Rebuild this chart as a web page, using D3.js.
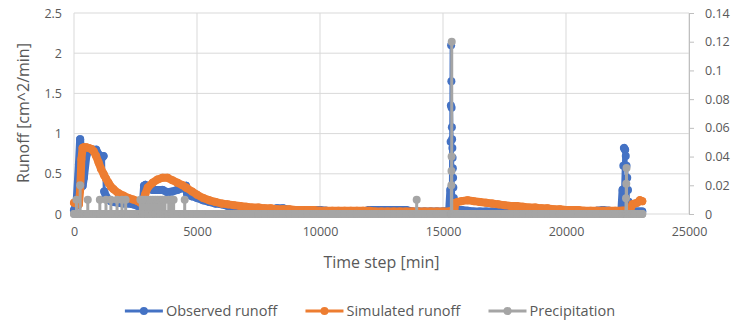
<!DOCTYPE html>
<html>
<head>
<meta charset="utf-8">
<script src="https://cdn.jsdelivr.net/npm/d3@7"></script>
<style>
  body { margin: 0; background: #fff; }
  svg text { font-family: "Open Sans", Lato, sans-serif; fill: #595959; }
</style>
</head>
<body>
<div id="chart"></div>
<script>
// time column [min], shared by observed and simulated runoff
const timeMin = [
  0, 100, 200, 250, 300, 350, 400, 500, 600, 700, 800, 900, 1000, 1100, 1200, 1230, 1300, 1400, 1500, 1600,
  1800, 2000, 2200, 2400, 2600, 2700, 2800, 2850, 2900, 3000, 3200, 3400, 3600, 3800, 4000, 4200, 4400, 4550,
  4600, 4800, 5000, 5250, 5500, 5750, 6000, 6250, 6500, 6750, 7000, 7250, 7500, 7750, 8000, 8250, 8500, 8750,
  9000, 9250, 9500, 9750, 10000, 10250, 10500, 10750, 11000, 11250, 11500, 11750, 12000, 12250, 12500, 12750,
  13000, 13250, 13500, 13750, 14000, 14250, 14500, 14750, 15000, 15250, 15300, 15310, 15320, 15330, 15340,
  15350, 15360, 15370, 15380, 15390, 15400, 15410, 15420, 15440, 15460, 15500, 15600, 15750, 16000, 16250,
  16500, 16750, 17000, 17250, 17500, 17750, 18000, 18250, 18500, 18750, 19000, 19250, 19500, 19750, 20000,
  20250, 20500, 20750, 21000, 21250, 21500, 21750, 22000, 22250, 22300, 22330, 22360, 22400, 22430, 22460,
  22490, 22520, 22550, 22600, 22700, 22800, 22900, 23000, 23100
];

// observed runoff [cm^2/min]
const observedRunoff = [
  0.05, 0.12, 0.62, 0.93, 0.55, 0.35, 0.45, 0.72, 0.8, 0.8, 0.8, 0.8, 0.74, 0.68, 0.72, 0.28, 0.22, 0.18, 0.16, 0.15,
  0.14, 0.13, 0.13, 0.12, 0.1, 0.1, 0.12, 0.35, 0.36, 0.33, 0.3, 0.3, 0.3, 0.27, 0.28, 0.3, 0.32, 0.35,
  0.25, 0.22, 0.2, 0.17, 0.15, 0.13, 0.12, 0.1, 0.09, 0.08, 0.08, 0.07, 0.06, 0.06, 0.06, 0.07, 0.07, 0.05,
  0.05, 0.04, 0.04, 0.05, 0.05, 0.04, 0.03, 0.03, 0.03, 0.03, 0.03, 0.03, 0.05, 0.05, 0.05, 0.05,
  0.05, 0.05, 0.05, 0.03, 0.03, 0.03, 0.03, 0.03, 0.03, 0.04, 0.3, 0.9, 1.35, 2.1, 1.65,
  1.32, 1.08, 0.93, 0.82, 0.7, 0.57, 0.45, 0.33, 0.2, 0.1, 0.05, 0.05, 0.05, 0.04, 0.03,
  0.03, 0.03, 0.03, 0.03, 0.03, 0.02, 0.02, 0.02, 0.02, 0.02, 0.02, 0.02, 0.02, 0.02, 0.02,
  0.02, 0.02, 0.02, 0.02, 0.04, 0.05, 0.04, 0.03, 0.03, 0.3, 0.6, 0.82, 0.8, 0.72, 0.6,
  0.45, 0.3, 0.15, 0.05, 0.03, 0.03, 0.03, 0.03, 0.03
];

// simulated runoff [cm^2/min]
const simulatedRunoff = [
  0.14, 0.13, 0.12, 0.3, 0.68, 0.82, 0.83, 0.83, 0.82, 0.81, 0.78, 0.72, 0.64, 0.56, 0.5, 0.48, 0.44, 0.39, 0.34, 0.31,
  0.26, 0.23, 0.2, 0.18, 0.16, 0.14, 0.17, 0.2, 0.25, 0.33, 0.39, 0.43, 0.45, 0.45, 0.42, 0.39, 0.36, 0.33,
  0.32, 0.28, 0.24, 0.2, 0.17, 0.15, 0.13, 0.12, 0.11, 0.1, 0.09, 0.08, 0.08, 0.07, 0.07, 0.06, 0.06, 0.06,
  0.05, 0.05, 0.05, 0.05, 0.04, 0.04, 0.04, 0.04, 0.04, 0.04, 0.04, 0.04, 0.04, 0.03, 0.03, 0.03,
  0.03, 0.03, 0.03, 0.03, 0.03, 0.03, 0.03, 0.03, 0.03, 0.03, 0.03, 0.03, 0.03, 0.03, 0.03,
  0.03, 0.03, 0.03, 0.03, 0.03, 0.03, 0.03, 0.03, 0.03, 0.04, 0.14, 0.15, 0.16, 0.17, 0.16,
  0.15, 0.14, 0.13, 0.12, 0.11, 0.1, 0.1, 0.09, 0.08, 0.08, 0.07, 0.07, 0.06, 0.06, 0.05,
  0.05, 0.05, 0.04, 0.04, 0.04, 0.04, 0.04, 0.04, 0.04, 0.04, 0.04, 0.04, 0.04, 0.04, 0.04,
  0.04, 0.04, 0.04, 0.04, 0.12, 0.13, 0.14, 0.17, 0.16
];

// precipitation readings above zero; every other time step reads 0
const precipTime = [
  100, 250, 560, 1050, 1300, 1500, 1750, 1950, 2100,
  2700, 2800, 2900, 3000, 3100, 3200, 3300, 3400, 3500, 3600, 3700, 3850, 3950, 4050, 4500,
  13930, 15340, 15345, 15350, 15355, 22440, 22450, 22460
];
const precipValue = [
  0.01, 0.02, 0.01, 0.01, 0.01, 0.01, 0.01, 0.01, 0.01,
  0.01, 0.01, 0.01, 0.01, 0.01, 0.01, 0.01, 0.01, 0.01, 0.01, 0.01, 0.01, 0.01, 0.01, 0.01,
  0.01, 0.02, 0.03, 0.04, 0.12, 0.011, 0.021, 0.032
];

const timeTicks = [0, 5000, 10000, 15000, 20000, 25000];
const runoffTicks = [0, 0.5, 1, 1.5, 2, 2.5];
const precipTicks = [0, 0.02, 0.04, 0.06, 0.08, 0.1, 0.12, 0.14];
const seriesNames = ["Observed runoff", "Simulated runoff", "Precipitation"];
const seriesColors = ["#4472C4", "#ED7D31", "#A5A5A5"];

const W = 741, H = 325;
const plot = { left: 74, right: 689, top: 13, bottom: 214 };
const gridColor = "#d9d9d9";
const markerR = 4;

const svg = d3.select("#chart").append("svg")
  .attr("width", W)
  .attr("height", H);

const x = d3.scaleLinear().domain([0, 25000]).range([plot.left, plot.right]);
const yRunoff = d3.scaleLinear().domain([0, 2.5]).range([plot.bottom, plot.top]);
const yPrecip = d3.scaleLinear().domain([0, 0.14]).range([plot.bottom, plot.top]);

// gridlines
svg.append("g")
  .selectAll("line")
  .data(runoffTicks)
  .join("line")
  .attr("x1", plot.left).attr("x2", plot.right)
  .attr("y1", (d) => yRunoff(d)).attr("y2", (d) => yRunoff(d))
  .attr("stroke", gridColor);
svg.append("g")
  .selectAll("line")
  .data(timeTicks)
  .join("line")
  .attr("x1", (d) => x(d)).attr("x2", (d) => x(d))
  .attr("y1", plot.top).attr("y2", plot.bottom)
  .attr("stroke", gridColor);

// series data
const observed = timeMin.map((t, i) => [t, observedRunoff[i]]);
const simulated = timeMin.map((t, i) => [t, simulatedRunoff[i]]);
const precip = timeMin.map((t) => [t, 0]);
precipTime.forEach((t, i) => precip.push([t, 0], [t, precipValue[i]], [t, 0]));
precip.sort((a, b) => a[0] - b[0]);

const series = [
  { data: observed, y: yRunoff },
  { data: simulated, y: yRunoff },
  { data: precip, y: yPrecip },
];

series.forEach((s, i) => {
  const line = d3.line().x((d) => x(d[0])).y((d) => s.y(d[1]));
  const g = svg.append("g");

  // the logger writes every minute, so between widely spaced readings the
  // markers merge into a solid band as wide as one marker
  const trail = d3.path();
  s.data.forEach((d, j) => {
    const p = s.data[j - 1];
    if (!p || d[0] - p[0] < 40) return;
    trail.moveTo(x(p[0]), s.y(p[1]));
    trail.lineTo(x(d[0]), s.y(d[1]));
  });
  g.append("path")
    .attr("d", trail.toString())
    .attr("fill", "none")
    .attr("stroke", seriesColors[i])
    .attr("stroke-width", markerR * 2)
    .attr("stroke-linecap", "round");

  g.append("path")
    .datum(s.data)
    .attr("fill", "none")
    .attr("stroke", seriesColors[i])
    .attr("stroke-width", 3)
    .attr("stroke-linejoin", "round")
    .attr("d", line);
  g.selectAll("circle")
    .data(s.data)
    .join("circle")
    .attr("cx", (d) => x(d[0]))
    .attr("cy", (d) => s.y(d[1]))
    .attr("r", markerR)
    .attr("fill", seriesColors[i]);
});

// axes
const tickFont = 12.5;
const left = svg.append("g")
  .attr("transform", `translate(${plot.left},0)`)
  .call(d3.axisLeft(yRunoff).tickValues(runoffTicks).tickSize(0).tickPadding(12).tickFormat((d) => String(d)));
left.select(".domain").remove();

const right = svg.append("g")
  .attr("transform", `translate(${plot.right},0)`)
  .call(d3.axisRight(yPrecip).tickValues(precipTicks).tickSize(5).tickSizeOuter(0).tickPadding(11).tickFormat((d) => String(d)));
right.select(".domain").attr("stroke", "#bfbfbf");
right.selectAll(".tick line").attr("stroke", "#bfbfbf");

const bottom = svg.append("g")
  .attr("transform", `translate(0,${plot.bottom})`)
  .call(d3.axisBottom(x).tickValues(timeTicks).tickSize(0).tickPadding(13).tickFormat((d) => String(d)));
bottom.select(".domain").remove();

svg.selectAll(".tick text").attr("font-size", tickFont);
[left, right, bottom].forEach((a) => a.attr("font-family", null).attr("font-size", null));

// axis titles
svg.append("text")
  .attr("x", (plot.left + plot.right) / 2)
  .attr("y", 262)
  .attr("dy", "0.35em")
  .attr("text-anchor", "middle")
  .attr("font-size", 16)
  .text("Time step [min]");

svg.append("text")
  .attr("transform", "translate(23,113) rotate(-90)")
  .attr("dy", "0.35em")
  .attr("text-anchor", "middle")
  .attr("font-size", 16)
  .text("Runoff [cm^2/min]");

// legend
const legend = svg.append("g").attr("transform", "translate(0,311)");
const items = legend.selectAll("g")
  .data(seriesNames)
  .join("g");
items.append("line")
  .attr("x1", 0).attr("x2", 38)
  .attr("stroke", (d, i) => seriesColors[i])
  .attr("stroke-width", 3);
items.append("circle")
  .attr("cx", 19)
  .attr("r", markerR)
  .attr("fill", (d, i) => seriesColors[i]);
items.append("text")
  .attr("x", 41)
  .attr("dy", "0.35em")
  .attr("font-size", 14.5)
  .text((d) => d);

const widths = items.nodes().map((n) => n.getBBox().width);
const gap = 27;
const total = d3.sum(widths) + gap * (widths.length - 1);
let pos = 370 - total / 2;
items.attr("transform", (d, i) => {
  const t = `translate(${pos},0)`;
  pos += widths[i] + gap;
  return t;
});
</script>
</body>
</html>
